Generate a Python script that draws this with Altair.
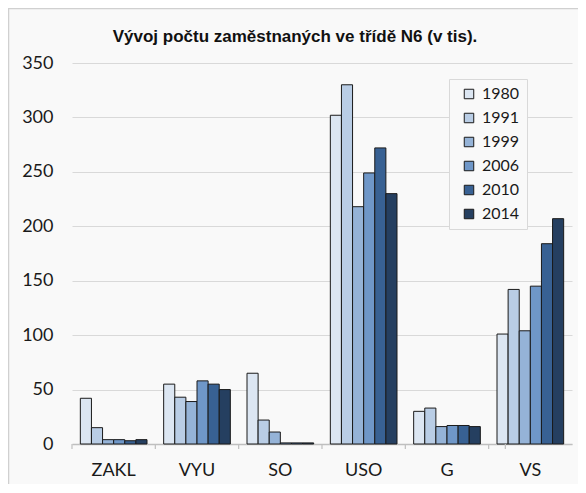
import altair as alt
import pandas as pd

title_text = "Vývoj počtu zaměstnaných ve třídě N6 (v tis)."
categories = ["ZAKL", "VYU", "SO", "USO", "G", "VS"]
years = ["1980", "1991", "1999", "2006", "2010", "2014"]
values = {
    "1980": [42, 55, 65, 302, 30, 101],
    "1991": [15, 43, 22, 330, 33, 142],
    "1999": [4, 39, 11, 218, 16, 104],
    "2006": [4, 58, 1, 249, 17, 145],
    "2010": [3, 55, 1, 272, 17, 184],
    "2014": [4, 50, 1, 230, 16, 207],
}
colors = ["#dce6f2", "#b9cde5", "#95b3d7", "#6f97c8", "#386193", "#253f60"]

rows = []
for y in years:
    for c, v in zip(categories, values[y]):
        rows.append({"cat": c, "year": y, "value": v})
df = pd.DataFrame(rows)

W, H = 500, 381
PAD_OUT = 0.1
step = W / (len(categories) - 0.2 + 2 * PAD_OUT)
xscale = alt.Scale(domain=categories, paddingInner=0.2, paddingOuter=PAD_OUT)

bars = alt.Chart(df).mark_bar(stroke="#1a1a1a", strokeWidth=1).encode(
    x=alt.X("cat:N", sort=categories, scale=xscale, title=None,
            axis=alt.Axis(labelAngle=0, ticks=False, labelFont="Lato", labelFontSize=18,
                          labelColor="#1a1a1a", labelPadding=17, domainColor="#bfbfbf",
                          domainWidth=1.5)),
    xOffset=alt.XOffset("year:N", sort=years, scale=alt.Scale(paddingInner=0, paddingOuter=0)),
    y=alt.Y("value:Q", scale=alt.Scale(domain=[0, 350], nice=False), title=None,
            axis=alt.Axis(values=[0, 50, 100, 150, 200, 250, 300, 350], ticks=False, domain=False,
                          gridColor="#d9d9d9", gridWidth=1.2, labelFont="Lato", labelFontSize=18,
                          labelColor="#1a1a1a", labelPadding=19)),
    fill=alt.Fill("year:N", sort=years, scale=alt.Scale(domain=years, range=colors),
                  legend=alt.Legend(title=None, orient="none", legendX=377, legendY=16,
                                    symbolType="square", symbolSize=90, symbolStrokeColor="#1a1a1a",
                                    symbolStrokeWidth=1, symbolOffset=5, labelFont="Lato",
                                    labelFontSize=16, labelColor="#1a1a1a", labelOffset=5,
                                    rowPadding=8, padding=7,
                                    fillColor="#f9f9f9", strokeColor="#d9d9d9")),
)

tick_df = pd.DataFrame({"cat": categories})
ticks_left = alt.Chart(tick_df).mark_rule(color="#bfbfbf", strokeWidth=1.2).encode(
    x=alt.X("cat:N", sort=categories, scale=xscale, bandPosition=0),
    xOffset=alt.value(-PAD_OUT * step),
    y=alt.value(H), y2=alt.value(H + 5),
)
ticks_right = alt.Chart(tick_df[tick_df["cat"] == "VS"]).mark_rule(color="#bfbfbf", strokeWidth=1.2).encode(
    x=alt.X("cat:N", sort=categories, scale=xscale, bandPosition=1),
    xOffset=alt.value(PAD_OUT * step),
    y=alt.value(H), y2=alt.value(H + 5),
)

frame = alt.Chart(pd.DataFrame({"a": [0]})).mark_rect(fill=None, stroke="#d0d0d0", strokeWidth=1.5).encode(
    x=alt.value(-63.5), x2=alt.value(W + 40), y=alt.value(-54.5), y2=alt.value(H + 60),
)

title = alt.Chart(pd.DataFrame({"t": [title_text]})).mark_text(
    font="Liberation Sans", fontSize=17, fontWeight="bold", color="#111111",
    align="center", baseline="alphabetic",
).encode(text="t:N", x=alt.value(W / 2 - 27), y=alt.value(-21))

chart = alt.layer(frame, bars, ticks_left, ticks_right, title).properties(
    width=W, height=H,
    padding={"left": 64, "top": 55, "right": 6, "bottom": 40},
    autosize=alt.AutoSizeParams(type="none"),
    background="#f9f9f9",
).configure_view(stroke=None)

chart.save("out.html", embed_options={"renderer": "svg", "actions": False})
